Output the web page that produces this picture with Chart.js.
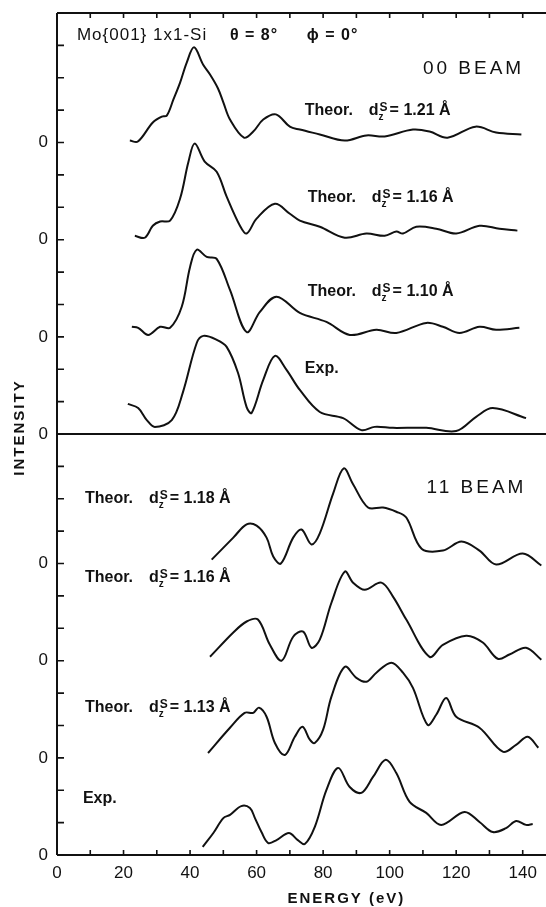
<!DOCTYPE html>
<html>
<head>
<meta charset="utf-8">
<script src="https://cdn.jsdelivr.net/npm/chart.js@4.4.1/dist/chart.umd.min.js"></script>
<style>
  html, body { margin: 0; padding: 0; background: #fff; }
</style>
</head>
<body>
<canvas id="chart" width="546" height="907"></canvas>
<script>
// 00 beam, theory dz = 1.21 A
const e00_121 = [21.9, 24.3, 28.8, 31.5, 33, 35, 37, 39, 41.2, 43.9, 46, 48.4, 50, 52, 56.2, 59, 62, 65.8, 70, 73, 79, 86.5, 93, 98.5, 107, 112, 117.4, 125.8, 132, 139.6];
const i00_121 = [0.06, 0.03, 0.62, 0.80, 0.83, 1.33, 1.85, 2.47, 2.94, 2.41, 2.10, 1.67, 1.24, 0.71, 0.15, 0.34, 0.71, 0.87, 0.49, 0.40, 0.25, 0.06, 0.22, 0.19, 0.40, 0.34, 0.15, 0.49, 0.31, 0.25];
// 00 beam, theory dz = 1.16 A
const e00_116 = [23.4, 26.4, 28.8, 31, 34, 37, 39.5, 41.4, 44.4, 48, 51, 55, 57, 60, 65.5, 70, 73, 79, 86.5, 93, 98.5, 102, 104, 108, 114, 120, 127, 133, 138.4];
const i00_116 = [0.12, 0.06, 0.43, 0.56, 0.59, 1.27, 2.40, 2.97, 2.41, 2.10, 1.33, 0.43, 0.19, 0.65, 1.11, 0.80, 0.59, 0.40, 0.06, 0.19, 0.12, 0.25, 0.19, 0.40, 0.34, 0.19, 0.43, 0.34, 0.28];
// 00 beam, theory dz = 1.10 A
const e00_110 = [22.5, 24.4, 27.4, 31, 34, 37.5, 40, 42, 45, 48, 52, 57, 61, 66, 73, 81, 88, 96, 102, 111, 116, 121, 127, 132, 139];
const i00_110 = [0.31, 0.28, 0.06, 0.31, 0.28, 0.93, 2.16, 2.69, 2.47, 2.41, 1.45, 0.15, 0.77, 1.24, 0.74, 0.46, 0.06, 0.22, 0.12, 0.43, 0.31, 0.12, 0.31, 0.22, 0.28];
// 00 beam, experiment
const e00_exp = [21.3, 24.4, 27, 29.4, 34.5, 37.8, 42, 44, 48, 51, 54.4, 57, 58.5, 62, 65.5, 69, 73, 79, 86, 91.5, 95.5, 101, 111, 120, 126, 131, 141];
const i00_exp = [0.93, 0.80, 0.43, 0.22, 0.43, 1.27, 2.81, 3.03, 2.91, 2.69, 1.89, 0.83, 0.65, 1.67, 2.41, 1.98, 1.36, 0.68, 0.49, 0.12, 0.22, 0.19, 0.19, 0.09, 0.53, 0.80, 0.49];
// 11 beam, theory dz = 1.18 A
const e11_118 = [46.5, 53, 57, 60, 63, 65, 67.3, 71, 73.5, 76.5, 79, 83, 86.2, 89, 93.5, 98, 102, 105, 109.6, 116, 121.6, 127, 132, 140, 145.6];
const i11_118 = [0.12, 0.80, 1.21, 1.17, 0.80, 0.22, 0.0, 0.80, 1.05, 0.59, 0.93, 2.16, 2.94, 2.45, 1.73, 1.73, 1.60, 1.42, 0.46, 0.40, 0.68, 0.40, -0.03, 0.31, -0.06];
// 11 beam, theory dz = 1.16 A
const e11_116 = [46, 53, 57, 60.4, 64, 67.5, 71, 74, 76.5, 79, 82.5, 86.5, 89, 92.5, 97.5, 101, 105, 112, 116, 123, 128, 132.5, 136, 141, 145.6];
const i11_116 = [0.12, 0.87, 1.21, 1.27, 0.49, 0, 0.74, 0.90, 0.40, 0.65, 1.79, 2.75, 2.41, 2.19, 2.41, 1.98, 1.27, 0.12, 0.49, 0.77, 0.56, 0.06, 0.19, 0.40, 0.03];
// 11 beam, theory dz = 1.13 A
const e11_113 = [45.4, 52, 56.4, 59, 60.7, 63, 65.5, 68.5, 71.5, 73.8, 76, 77.5, 80, 82.5, 86.5, 90, 93, 96, 100.5, 104, 107, 111.4, 114, 117, 120, 127, 134, 138, 141.5, 144.7];
const i11_113 = [0.15, 0.93, 1.39, 1.39, 1.55, 1.27, 0.46, 0.09, 0.65, 0.96, 0.56, 0.46, 0.87, 1.89, 2.81, 2.47, 2.35, 2.63, 2.94, 2.63, 2.16, 1.02, 1.33, 1.85, 1.27, 0.93, 0.19, 0.40, 0.65, 0.31];
// 11 beam, experiment
const e11_exp = [43.8, 47, 50, 52, 55.4, 58, 59.5, 61.5, 63.5, 66, 69.7, 72.4, 74.5, 77.5, 81, 84.5, 88, 91.5, 95, 98.8, 102, 106, 111, 115.5, 122.5, 127, 131, 135, 138, 141, 143];
const i11_exp = [0.25, 0.68, 1.14, 1.24, 1.51, 1.45, 1.14, 0.70, 0.37, 0.46, 0.68, 0.46, 0.34, 0.87, 2.01, 2.69, 2.10, 1.92, 2.41, 2.94, 2.53, 1.64, 1.30, 0.93, 1.33, 1.02, 0.71, 0.83, 1.05, 0.93, 0.96];

// zero line of each curve on the shared intensity axis (labelled "0")
const baselines = [22, 19, 16, 13, 9, 6, 3, 0];
const curves = [
  [e00_121, i00_121], [e00_116, i00_116], [e00_110, i00_110], [e00_exp, i00_exp],
  [e11_118, i11_118], [e11_116, i11_116], [e11_113, i11_113], [e11_exp, i11_exp],
];
const dzLabels = ['1.21', '1.16', '1.10', null, '1.18', '1.16', '1.13', null];
const xTicks = [0, 20, 40, 60, 80, 100, 120, 140];

const FONT = `'Liberation Sans', Arial, sans-serif`;

const datasets = curves.map(([e, v], k) => ({
  data: e.map((x, i) => ({ x, y: baselines[k] + v[i] })),
  borderColor: '#111',
  borderWidth: 2,
  pointRadius: 0,
  tension: 0.35,
  fill: false,
}));

const framePlugin = {
  id: 'frame',
  afterDatasetsDraw(chart) {
    const { ctx, chartArea: a, scales: { x, y } } = chart;
    ctx.save();
    ctx.strokeStyle = '#111';
    ctx.lineWidth = 2;
    ctx.beginPath();
    ctx.moveTo(a.left, a.top); ctx.lineTo(a.right, a.top);
    ctx.moveTo(a.left, a.top); ctx.lineTo(a.left, a.bottom);
    ctx.moveTo(a.left, a.bottom); ctx.lineTo(a.right, a.bottom);
    const mid = y.getPixelForValue(13);
    ctx.moveTo(a.left, mid); ctx.lineTo(a.right, mid);
    ctx.stroke();
    ctx.lineWidth = 1.6;
    ctx.beginPath();
    for (let v = 0; v <= 26; v++) {
      const py = y.getPixelForValue(v);
      ctx.moveTo(a.left, py); ctx.lineTo(a.left + 7, py);
    }
    for (let e = 10; e <= 140; e += 10) {
      const px = x.getPixelForValue(e);
      ctx.moveTo(px, a.bottom); ctx.lineTo(px, a.bottom - 5);
      ctx.moveTo(px, a.top); ctx.lineTo(px, a.top + 5);
    }
    ctx.stroke();
    ctx.restore();
  },
};

function drawTheor(ctx, px, py, val) {
  ctx.font = `bold 16px ${FONT}`;
  ctx.fillText('Theor.', px, py);
  let cx = px + ctx.measureText('Theor.').width + 16;
  ctx.fillText('d', cx, py);
  cx += ctx.measureText('d').width;
  ctx.font = `bold 10px ${FONT}`;
  ctx.fillText('z', cx, py + 5);
  ctx.font = `bold 12px ${FONT}`;
  ctx.fillText('S', cx + 1, py - 4);
  cx += ctx.measureText('S').width + 3;
  ctx.font = `bold 16px ${FONT}`;
  ctx.fillText('= ' + val + ' Å', cx, py);
}

const textPlugin = {
  id: 'texts',
  afterDraw(chart) {
    const { ctx, scales: { x, y } } = chart;
    const X = (e) => x.getPixelForValue(e);
    const Y = (v) => y.getPixelForValue(v);
    ctx.save();
    ctx.fillStyle = '#111';
    ctx.textBaseline = 'alphabetic';
    ctx.textAlign = 'left';

    ctx.font = `17px ${FONT}`;
    ctx.letterSpacing = '1px';
    ctx.fillText('Mo{001} 1x1-Si', X(6), Y(25.16));
    ctx.font = `bold 16px ${FONT}`;
    ctx.fillText('θ = 8°', X(52), Y(25.16));
    ctx.fillText('ϕ = 0°', X(75.1), Y(25.16));

    ctx.font = `19px ${FONT}`;
    ctx.letterSpacing = '3px';
    ctx.fillText('00 BEAM', X(110), Y(24.11));
    ctx.fillText('11 BEAM', X(111.1), Y(11.19));
    ctx.letterSpacing = '0px';

    // label positions: [energy, intensity] of each curve caption
    const spots = [[74.5, 22.84], [75.4, 20.15], [75.4, 17.25], [74.5, 14.87],
                   [8.4, 10.88], [8.4, 8.44], [8.4, 4.42], [7.8, 1.61]];
    spots.forEach(([e, v], k) => {
      if (dzLabels[k]) {
        drawTheor(ctx, X(e), Y(v), dzLabels[k]);
      } else {
        ctx.font = `bold 16px ${FONT}`;
        ctx.fillText('Exp.', X(e), Y(v));
      }
    });

    ctx.font = `bold 15px ${FONT}`;
    ctx.letterSpacing = '2px';
    ctx.textAlign = 'center';
    ctx.fillText('ENERGY (eV)', X(87), 903);
    ctx.translate(24, Y(13.2));
    ctx.rotate(-Math.PI / 2);
    ctx.fillText('INTENSITY', 0, 0);
    ctx.restore();
  },
};

new Chart(document.getElementById('chart'), {
  type: 'line',
  data: { datasets },
  options: {
    responsive: false,
    animation: false,
    layout: { padding: { top: 13, right: 0, left: 0, bottom: 0 } },
    plugins: { legend: { display: false }, tooltip: { enabled: false } },
    scales: {
      x: {
        type: 'linear',
        min: 0,
        max: 147,
        grid: { display: false },
        border: { display: false },
        afterFit: (s) => { s.height = 52; },
        afterBuildTicks: (s) => { s.ticks = xTicks.map((value) => ({ value })); },
        ticks: {
          padding: 0,
          color: '#111',
          font: { family: FONT, size: 17 },
          maxRotation: 0,
          autoSkip: false,
        },
      },
      y: {
        min: 0,
        max: 26,
        grid: { display: false },
        border: { display: false },
        afterFit: (s) => { s.width = 57; },
        afterBuildTicks: (s) => { s.ticks = baselines.map((value) => ({ value })); },
        ticks: {
          padding: 1,
          color: '#111',
          font: { family: FONT, size: 17 },
          autoSkip: false,
          callback: () => '0',
        },
      },
    },
  },
  plugins: [framePlugin, textPlugin],
});
</script>
</body>
</html>
